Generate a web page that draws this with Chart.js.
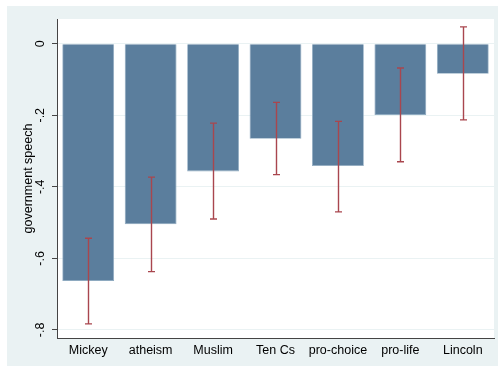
<!DOCTYPE html>
<html>
<head>
<meta charset="utf-8">
<script src="https://cdn.jsdelivr.net/npm/chart.js@4.4.1/dist/chart.umd.min.js"></script>
<style>
  html, body { margin: 0; padding: 0; background: #ffffff; }
  #wrap { width: 498px; height: 366px; position: relative; }
</style>
</head>
<body>
<div id="wrap"><canvas id="c" width="498" height="366"></canvas></div>
<script>
// Mean effect on "government speech" rating by display type, with confidence intervals
const categories = ['Mickey', 'atheism', 'Muslim', 'Ten Cs', 'pro-choice', 'pro-life', 'Lincoln'];
const means      = [-0.663, -0.505, -0.357, -0.266, -0.342, -0.199, -0.084];
const ciLow      = [-0.783, -0.637, -0.490, -0.366, -0.470, -0.330, -0.213];
const ciHigh     = [-0.544, -0.373, -0.222, -0.164, -0.217, -0.068, 0.047];
const yTickValues = [-0.8, -0.6, -0.4, -0.2, 0];
const yTickLabels = ['-.8', '-.6', '-.4', '-.2', '0'];
const yTitle = 'government speech';

const FONT = '"Liberation Sans", Arial, Helvetica, sans-serif';
const FONT_SIZE = 12.5;
const BG = '#eaf2f3';

// Light backdrop with a white plot region
const backdrop = {
  id: 'backdrop',
  beforeDraw(chart) {
    const { ctx, chartArea: a } = chart;
    ctx.save();
    ctx.fillStyle = '#ffffff';
    ctx.fillRect(0, 0, chart.width, chart.height);
    ctx.fillStyle = BG;
    ctx.fillRect(7, 6, chart.width - 7, chart.height - 6);
    ctx.fillStyle = '#ffffff';
    ctx.fillRect(a.left, a.top, a.right - a.left, a.bottom - a.top);
    ctx.restore();
  }
};

// Capped interval lines drawn over each bar
const intervals = {
  id: 'intervals',
  afterDatasetsDraw(chart) {
    const { ctx } = chart;
    const y = chart.scales.y;
    const meta = chart.getDatasetMeta(0);
    ctx.save();
    ctx.strokeStyle = '#a9464e';
    ctx.lineWidth = 1.4;
    meta.data.forEach((bar, i) => {
      const x = Math.round(bar.x) + 0.5;
      const yl = y.getPixelForValue(ciLow[i]);
      const yh = y.getPixelForValue(ciHigh[i]);
      ctx.beginPath();
      ctx.moveTo(x, yl); ctx.lineTo(x, yh);
      ctx.moveTo(x - 3.5, yl); ctx.lineTo(x + 3.5, yl);
      ctx.moveTo(x - 3.5, yh); ctx.lineTo(x + 3.5, yh);
      ctx.stroke();
    });
    ctx.restore();
  }
};

// Vertical tick labels and axis title on the value axis
const yLabels = {
  id: 'yLabels',
  afterDraw(chart) {
    const { ctx } = chart;
    const y = chart.scales.y;
    ctx.save();
    ctx.fillStyle = '#000';
    ctx.font = FONT_SIZE + 'px ' + FONT;
    ctx.textAlign = 'center';
    ctx.textBaseline = 'middle';
    yTickValues.forEach((v, i) => {
      ctx.save();
      ctx.translate(41, y.getPixelForValue(v));
      ctx.rotate(-Math.PI / 2);
      ctx.fillText(yTickLabels[i], 0, 0);
      ctx.restore();
    });
    ctx.translate(28.5, (chart.chartArea.top + chart.chartArea.bottom) / 2);
    ctx.rotate(-Math.PI / 2);
    ctx.fillText(yTitle, 0, 0);
    ctx.restore();
  }
};

new Chart(document.getElementById('c'), {
  type: 'bar',
  data: {
    labels: categories,
    datasets: [{
      data: means,
      backgroundColor: '#5b7e9d',
      borderColor: '#8eaac0',
      borderWidth: 0.8,
      barPercentage: 0.83,
      categoryPercentage: 1.0
    }]
  },
  options: {
    responsive: false,
    animation: false,
    layout: { padding: { left: 0, top: 19, right: 4, bottom: 0 } },
    plugins: { legend: { display: false }, tooltip: { enabled: false } },
    scales: {
      x: {
        grid: { display: false, drawTicks: false },
        border: { display: true, color: '#444', width: 1 },
        ticks: { color: '#000', font: { family: FONT, size: FONT_SIZE }, padding: 5, maxRotation: 0, minRotation: 0 },
        afterFit(scale) { scale.height = 28; }
      },
      y: {
        min: -0.8226,
        max: 0.069,
        afterBuildTicks(scale) { scale.ticks = yTickValues.map(v => ({ value: v })); },
        grid: { color: BG, lineWidth: 1, tickColor: '#444', tickLength: 5, drawTicks: true },
        border: { display: true, color: '#444', width: 1 },
        ticks: { display: false },
        afterFit(scale) { scale.width = 57; }
      }
    }
  },
  plugins: [backdrop, intervals, yLabels]
});
</script>
</body>
</html>
